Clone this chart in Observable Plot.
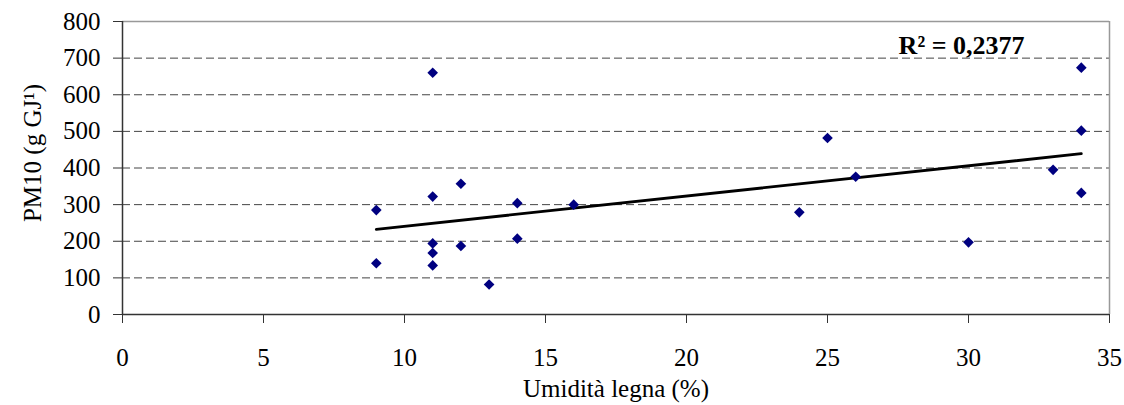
<!DOCTYPE html>
<html>
<head>
<meta charset="utf-8">
<script src="https://cdn.jsdelivr.net/npm/d3@7"></script>
<script src="https://cdn.jsdelivr.net/npm/@observablehq/plot@0.6"></script>
<style>
  html, body { margin: 0; padding: 0; background: #fff; }
</style>
</head>
<body>
<div id="chart"></div>
<script>
// Umidità legna (%)
const umidita = [9, 9, 11, 11, 11, 11, 11, 12, 12, 13, 14, 14, 16, 24, 25, 26, 30, 33, 34, 34, 34];
// PM10 (g GJ-1)
const pm10 = [285, 140, 660, 322, 194, 168, 134, 357, 187, 82, 304, 207, 300, 279, 482, 376, 197, 395, 674, 502, 332];

const xTicks = [0, 5, 10, 15, 20, 25, 30, 35];
const yTicks = [0, 100, 200, 300, 400, 500, 600, 700, 800];
const gridValues = [100, 200, 300, 400, 500, 600, 700];
const xLabel = "Umidità legna (%)";
const yLabel = "PM10 (g GJ\u00B9)";
const r2Label = "R\u00B2 = 0,2377";

const data = umidita.map((u, i) => ({u, pm: pm10[i]}));

const chart = Plot.plot({
  width: 1124,
  height: 405,
  marginLeft: 122,
  marginRight: 15,
  marginTop: 21,
  marginBottom: 91,
  style: {fontFamily: "'Liberation Serif', 'Times New Roman', serif", fontSize: "25px", color: "#000", background: "#fff"},
  x: {domain: [0, 35]},
  y: {domain: [0, 800]},
  marks: [
    Plot.ruleY(gridValues, {stroke: "#444", strokeWidth: 1, strokeDasharray: "8,4"}),
    Plot.ruleY([800], {stroke: "#999", strokeWidth: 1.5}),
    Plot.ruleX([35], {stroke: "#999", strokeWidth: 1.5}),
    Plot.ruleX([0], {stroke: "#333", strokeWidth: 1.5}),
    Plot.ruleY([0], {stroke: "#333", strokeWidth: 1.5}),
    Plot.axisX({ticks: xTicks, tickSize: 9, tickPadding: 25, stroke: "#333", label: null}),
    Plot.axisY({ticks: yTicks, tickSize: 9, tickPadding: 13, stroke: "#333", label: null}),
    Plot.text([xLabel], {frameAnchor: "bottom", dy: 74, lineAnchor: "middle", fontSize: 25}),
    Plot.text([yLabel], {frameAnchor: "left", textAnchor: "middle", rotate: -90, dx: -90, dy: -15, lineAnchor: "middle", fontSize: 25}),
    Plot.linearRegressionY(data, {x: "u", y: "pm", ci: 0, stroke: "#000", strokeWidth: 2.8}),
    Plot.dot(data, {x: "u", y: "pm", symbol: "diamond2", r: 4.8, fill: "#000080", stroke: "none"}),
    Plot.text([r2Label], {frameAnchor: "top-right", textAnchor: "end", lineAnchor: "bottom", dx: -85, dy: 32, fontSize: 26, fontWeight: "bold"})
  ]
});
document.getElementById("chart").append(chart);
</script>
</body>
</html>
